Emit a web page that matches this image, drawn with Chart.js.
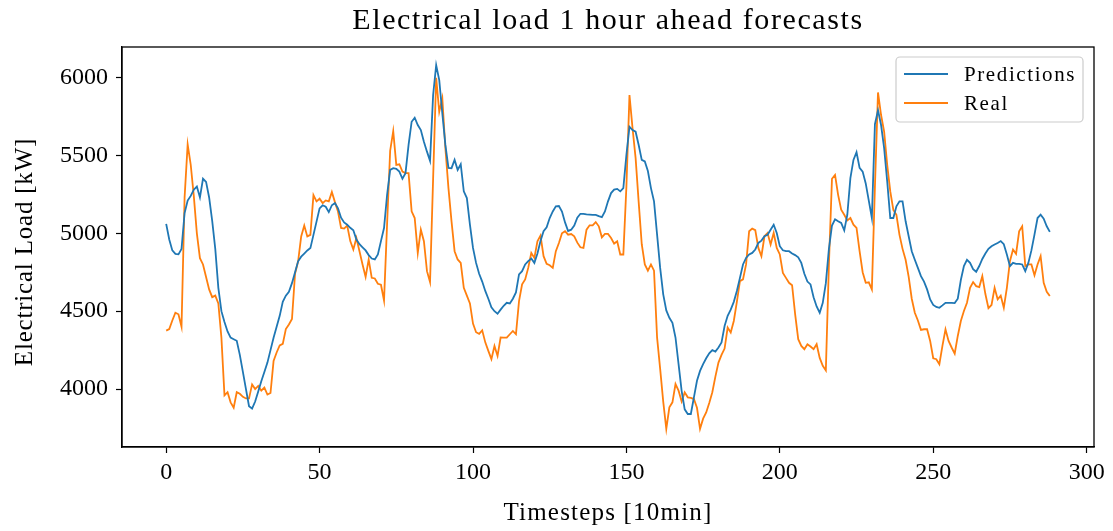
<!DOCTYPE html>
<html>
<head>
<meta charset="utf-8">
<title>Electrical load forecasts</title>
<script src="https://cdn.jsdelivr.net/npm/chart.js@4.4.1/dist/chart.umd.min.js"></script>
<style>
  html, body { margin: 0; padding: 0; background: #fff; }
  #wrap { width: 1113px; height: 531px; position: relative; }
</style>
</head>
<body>
<div id="wrap"><canvas id="load-chart"></canvas></div>
<script>
// Electrical load, 1 hour ahead forecast vs measured (kW, 10 min steps)

const predictions = [
  5060, 4960, 4890, 4868, 4865, 4900, 5130, 5210, 5240, 5280,
  5300, 5230, 5350, 5330, 5230, 5080, 4900, 4650, 4500, 4430,
  4370, 4330, 4320, 4310, 4220, 4110, 4000, 3890, 3875, 3920,
  3985, 4050, 4110, 4170, 4250, 4330, 4400, 4470, 4560, 4600,
  4625, 4680, 4750, 4820, 4850, 4870, 4890, 4905, 4990, 5075,
  5160, 5180, 5170, 5136, 5180, 5194, 5160, 5100, 5070, 5055,
  5035, 5020, 4960, 4930, 4910, 4890, 4860, 4838, 4832, 4864,
  4950, 5034, 5247, 5407, 5418, 5414, 5396, 5350, 5386, 5567,
  5716, 5742, 5695, 5663, 5588, 5524, 5465, 5887, 6079, 5983,
  5770, 5567, 5420, 5418, 5471, 5407, 5443, 5269, 5226, 5055,
  4906, 4810, 4740, 4690, 4630, 4580, 4525, 4500, 4484, 4510,
  4535, 4554, 4550, 4580, 4620, 4736, 4757, 4800, 4821, 4838,
  4810, 4870, 4950, 5013, 5038, 5098, 5140, 5173, 5175, 5140,
  5070, 5015, 5023, 5050, 5100, 5125, 5125, 5122, 5120, 5118,
  5118, 5110, 5104, 5140, 5205, 5258, 5280, 5285, 5269, 5290,
  5503, 5684, 5663, 5652, 5567, 5471, 5461, 5400, 5290, 5205,
  4991, 4778, 4608, 4505, 4458, 4426, 4331, 4160, 3989, 3870,
  3840, 3840, 3947, 4053, 4117, 4160, 4198, 4230, 4250, 4241,
  4267, 4300, 4405, 4470, 4510, 4560, 4630, 4714, 4800, 4842,
  4864, 4874, 4896, 4938, 4953, 4981, 4991, 5023, 5055, 5002,
  4917, 4891, 4885, 4885, 4870, 4860, 4846, 4810, 4740, 4690,
  4672, 4590, 4530, 4490, 4554, 4680, 4900, 5050, 5090, 5077,
  5066, 5019, 5119, 5354, 5471, 5520, 5420, 5396, 5320, 5210,
  5098, 5700, 5790, 5695, 5546, 5333, 5098, 5098, 5173, 5205,
  5205, 5077, 4981, 4885, 4830, 4778, 4725, 4690, 4640, 4575,
  4540, 4527, 4522, 4537, 4554, 4554, 4554, 4552, 4580, 4700,
  4790, 4830, 4810, 4770, 4753, 4790, 4835, 4870, 4900, 4917,
  4928, 4938, 4950, 4930, 4864, 4789, 4810, 4804, 4804, 4800,
  4757, 4810, 4890, 4991, 5098, 5119, 5094, 5045, 5009
];

const real = [
  4375, 4385, 4440, 4490, 4480, 4400, 5230, 5570, 5440, 5240,
  5000, 4840, 4800, 4720, 4640, 4590, 4600, 4550, 4330, 3960,
  3980, 3915, 3880, 3980, 3970, 3950, 3940, 3940, 4030, 4000,
  4020, 3990, 4010, 3965, 3975, 4180, 4235, 4280, 4290, 4385,
  4415, 4450, 4740, 4820, 4980, 5050, 4980, 4990, 5245, 5205,
  5222, 5194, 5211, 5205, 5265, 5200, 5140, 5034, 5030, 5050,
  4950, 4896, 4970, 4885, 4800, 4720, 4832, 4714, 4710, 4676,
  4670, 4569, 5060, 5530, 5656, 5439, 5443, 5396, 5386, 5386,
  5141, 5098, 4874, 5023, 4949, 4757, 4687, 5350, 5998, 5780,
  5866, 5546, 5290, 5077, 4885, 4832, 4810, 4650, 4600, 4550,
  4420, 4365, 4355, 4377, 4300, 4245, 4192, 4277, 4213, 4331,
  4330, 4330, 4352, 4373, 4352, 4565, 4672, 4704, 4778, 4874,
  4842, 4949, 4985, 4853, 4804, 4795, 4778, 4885, 4938, 5000,
  5013, 4991, 4995, 4981, 4940, 4910, 4906, 5023, 5051, 5051,
  5072, 5045, 4974, 4996, 4996, 4970, 4934, 4949, 4864, 4864,
  5300, 5887, 5674, 5482, 5200, 4930, 4800, 4760, 4800, 4760,
  4330, 4130, 3920, 3745, 3883, 3915, 4032, 3990, 3920, 3979,
  3947, 3943, 3936, 3880, 3745, 3810, 3850, 3910, 3980, 4080,
  4170, 4220, 4260, 4395, 4363, 4437, 4560, 4693, 4704, 4800,
  5013, 5030, 5020, 4906, 4853, 4981, 5002, 4928, 5002, 4906,
  4864, 4746, 4714, 4682, 4667, 4480, 4320, 4277, 4256, 4288,
  4273, 4256, 4288, 4200, 4149, 4120, 4800, 5350, 5375, 5247,
  5151, 5119, 5083, 5098, 5055, 5034, 4885, 4750, 4682, 4685,
  4640, 5300, 5904, 5759, 5652, 5439, 5269, 5150, 5119, 4990,
  4900, 4830, 4720, 4580, 4490, 4440, 4380, 4384, 4384, 4309,
  4198, 4192, 4160, 4277, 4384, 4309, 4267, 4228, 4341, 4437,
  4501, 4554, 4650, 4687, 4661, 4655, 4725, 4610, 4520, 4540,
  4650, 4576, 4600, 4522, 4650, 4821, 4896, 4868, 5013, 5045,
  4790, 4800, 4800, 4731, 4800, 4853, 4682, 4625, 4597
];

const timesteps = predictions.map((_, i) => i);
const xTicks = [0, 50, 100, 150, 200, 250, 300];
const yTicks = [4000, 4500, 5000, 5500, 6000];

const SERIF = "'Liberation Serif', 'DejaVu Serif', serif";
const BLUE = '#1f77b4';
const ORANGE = '#ff7f0e';

// matplotlib-style 5% margins around the data
function padded(lo, hi) {
  const m = (hi - lo) * 0.05;
  return [lo - m, hi + m];
}
const [xMin, xMax] = padded(0, timesteps[timesteps.length - 1]);
const allY = predictions.concat(real);
const [yMin, yMax] = padded(Math.min(...allY), Math.max(...allY));

function text(ctx, str, x, y, size, spacing, rotate) {
  ctx.save();
  ctx.font = `${size}px ${SERIF}`;
  ctx.letterSpacing = `${spacing}px`;
  ctx.fillStyle = '#000';
  ctx.textAlign = 'center';
  ctx.textBaseline = 'middle';
  ctx.translate(x, y);
  if (rotate) ctx.rotate(-Math.PI / 2);
  ctx.fillText(str, 0, 0);
  ctx.restore();
}

// frame, titles and boxed legend, drawn after the datasets
const decorations = {
  id: 'decorations',
  afterDraw(chart) {
    const { ctx, chartArea: a } = chart;
    const cx = (a.left + a.right) / 2;
    const cy = (a.top + a.bottom) / 2;
    ctx.save();

    ctx.strokeStyle = '#000';
    ctx.lineWidth = 1.3;
    ctx.strokeRect(a.left, a.top, a.right - a.left, a.bottom - a.top);

    text(ctx, 'Electrical load 1 hour ahead forecasts', cx, 21, 30, 1.6);
    text(ctx, 'Timesteps [10min]', cx, 513, 25, 1.2);
    text(ctx, 'Electrical Load [kW]', 25, cy + 5, 25, 0.8, true);

    // legend box, upper right
    const bx = a.right - 198, by = a.top + 10, bw = 187, bh = 65, r = 4;
    ctx.beginPath();
    ctx.moveTo(bx + r, by);
    ctx.arcTo(bx + bw, by, bx + bw, by + bh, r);
    ctx.arcTo(bx + bw, by + bh, bx, by + bh, r);
    ctx.arcTo(bx, by + bh, bx, by, r);
    ctx.arcTo(bx, by, bx + bw, by, r);
    ctx.closePath();
    ctx.fillStyle = 'rgba(255,255,255,0.8)';
    ctx.fill();
    ctx.strokeStyle = '#cccccc';
    ctx.lineWidth = 1.2;
    ctx.stroke();

    ctx.font = `21px ${SERIF}`;
    ctx.letterSpacing = '1.6px';
    ctx.textAlign = 'left';
    ctx.textBaseline = 'middle';
    chart.data.datasets.forEach((ds, i) => {
      const y = by + 17 + i * 29;
      ctx.strokeStyle = ds.borderColor;
      ctx.lineWidth = ds.borderWidth;
      ctx.beginPath();
      ctx.moveTo(bx + 8, y);
      ctx.lineTo(bx + 52, y);
      ctx.stroke();
      ctx.fillStyle = '#000';
      ctx.fillText(ds.label, bx + 68, y + 1);
    });

    ctx.restore();
  }
};

const ctx = document.getElementById('load-chart').getContext('2d');
const loadChart = new Chart(ctx, {
  type: 'line',
  data: {
    labels: timesteps,
    datasets: [{
      label: 'Predictions',
      data: timesteps.map(i => ({ x: i, y: predictions[i] })),
      borderColor: BLUE,
      borderWidth: 1.8,
      pointRadius: 0,
      tension: 0
    }, {
      label: 'Real',
      data: timesteps.map(i => ({ x: i, y: real[i] })),
      borderColor: ORANGE,
      borderWidth: 1.8,
      pointRadius: 0,
      tension: 0
    }]
  },
  options: {
    responsive: true,
    maintainAspectRatio: false,
    devicePixelRatio: 1,
    animation: false,
    layout: { padding: { top: 47, right: 19, bottom: 0, left: 0 } },
    plugins: {
      legend: { display: false },
      title: { display: false },
      tooltip: { enabled: false }
    },
    scales: {
      x: {
        type: 'linear',
        min: xMin,
        max: xMax,
        afterBuildTicks: axis => { axis.ticks = xTicks.map(v => ({ value: v })); },
        afterFit: axis => { axis.height = 84; },
        grid: { drawOnChartArea: false, drawTicks: true, tickLength: 6, tickColor: '#000', tickWidth: 1.2 },
        border: { display: true, color: '#000', width: 1.3 },
        ticks: {
          color: '#000',
          font: { family: SERIF, size: 24 },
          padding: 5,
          maxRotation: 0,
          callback: v => String(v)
        }
      },
      y: {
        min: yMin,
        max: yMax,
        afterBuildTicks: axis => { axis.ticks = yTicks.map(v => ({ value: v })); },
        afterFit: axis => { axis.width = 122; },
        grid: { drawOnChartArea: false, drawTicks: true, tickLength: 6, tickColor: '#000', tickWidth: 1.2 },
        border: { display: true, color: '#000', width: 1.3 },
        ticks: {
          color: '#000',
          font: { family: SERIF, size: 24 },
          padding: 8,
          callback: v => String(v)
        }
      }
    }
  },
  plugins: [decorations]
});
</script>
</body>
</html>
